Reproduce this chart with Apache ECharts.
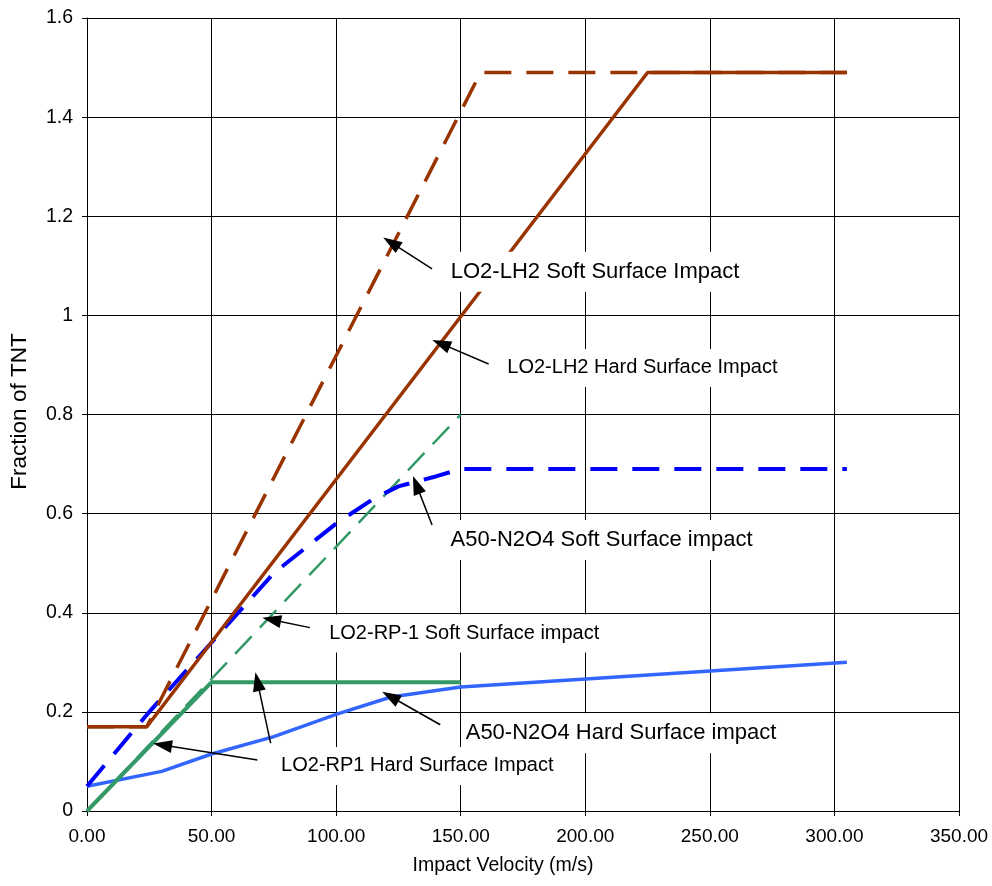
<!DOCTYPE html>
<html>
<head>
<meta charset="utf-8">
<script src="https://cdn.jsdelivr.net/npm/echarts@6/dist/echarts.min.js"></script>
<style>html,body{margin:0;padding:0;background:#fff}#c{width:992px;height:886px}</style>
</head>
<body>
<div id="c"></div>
<script>
// ---- data (Impact velocity m/s -> Fraction of TNT) ----
const lh2HardX = [0, 24, 225, 305];
const lh2HardY = [0.17, 0.17, 1.49, 1.49];
const lh2SoftX = [0, 24, 158, 305];
const lh2SoftY = [0.17, 0.17, 1.49, 1.49];
const a50SoftX = [0, 25, 50, 75, 100, 115, 125, 140, 150, 305];
const a50SoftY = [0.05, 0.2, 0.34, 0.48, 0.58, 0.63, 0.655, 0.675, 0.69, 0.69];
const a50HardX = [0, 30, 50, 75, 100, 122, 150, 305];
const a50HardY = [0.05, 0.08, 0.115, 0.15, 0.195, 0.23, 0.25, 0.30];
const rp1HardX = [0, 50, 150];
const rp1HardY = [0, 0.26, 0.26];
const rp1SoftX = [0, 150];
const rp1SoftY = [0, 0.8];

const xTicks = [0, 50, 100, 150, 200, 250, 300, 350];
const yTicks = [0, 0.2, 0.4, 0.6, 0.8, 1, 1.2, 1.4, 1.6];

// annotations: text anchor (left, middle) and arrows [tail, head] in data units
const annoTexts = [
  {name: 'LO2-LH2 Soft Surface Impact', at: [144.2, 1.088], size: 22},
  {name: 'LO2-LH2 Hard Surface Impact', at: [166.9, 0.894], size: 20},
  {name: 'A50-N2O4 Soft Surface impact', at: [144.1, 0.547], size: 22},
  {name: 'LO2-RP-1 Soft Surface impact', at: [95.4, 0.358], size: 20},
  {name: 'A50-N2O4 Hard Surface impact', at: [150.2, 0.157], size: 22},
  {name: 'LO2-RP1 Hard Surface Impact', at: [76.1, 0.091], size: 20}
];
const annoArrows = [
  [[138.5, 1.094], [122.1, 1.147]],
  [[161.2, 0.902], [142.1, 0.943]],
  [[138.5, 0.577], [132.2, 0.658]],
  [[89.5, 0.370], [74.1, 0.386]],
  [[141.8, 0.174], [121.8, 0.231]],
  [[68.4, 0.103], [30.3, 0.133]],
  [[73.7, 0.137], [68.4, 0.261]]
];

function pairs(xs, ys) { return xs.map((x, i) => [x, ys[i]]); }

const FONT = '"Liberation Sans", Arial, sans-serif';

function lineSeries(xs, ys, color, width, dash, z) {
  return {
    type: 'line', data: pairs(xs, ys), symbol: 'none', z: z,
    lineStyle: {color: color, width: width, type: dash || 'solid', cap: 'butt'},
    silent: true
  };
}

const chart = echarts.init(document.getElementById('c'), null, {renderer: 'canvas'});
chart.setOption({
  animation: false,
  backgroundColor: '#fff',
  grid: {left: 86, right: 33, top: 18, bottom: 75},
  xAxis: {
    type: 'value', min: 0, max: 350, interval: 50,
    name: 'Impact Velocity (m/s)', nameLocation: 'middle', nameGap: 45,
    nameTextStyle: {fontFamily: FONT, fontSize: 19.5, color: '#000', padding: [0, 40, 0, 0]},
    axisLine: {show: true, onZero: false, lineStyle: {color: '#000', width: 1}},
    axisTick: {show: true, length: 5, lineStyle: {color: '#000'}},
    axisLabel: {fontFamily: FONT, fontSize: 19, color: '#000', margin: 16,
      formatter: v => Number(v).toFixed(2)},
    splitLine: {show: true, lineStyle: {color: '#000', width: 1}}
  },
  yAxis: {
    type: 'value', min: 0, max: 1.6, interval: 0.2,
    name: 'Fraction of TNT', nameLocation: 'middle', nameGap: 56, nameRotate: 90,
    nameTextStyle: {fontFamily: FONT, fontSize: 22.5, color: '#000', padding: [0, 0, 0, 6]},
    axisLine: {show: true, onZero: false, lineStyle: {color: '#000', width: 1}},
    axisTick: {show: true, length: 5, lineStyle: {color: '#000'}},
    axisLabel: {fontFamily: FONT, fontSize: 19.5, color: '#000', margin: 14,
      formatter: v => String(Math.round(v * 10) / 10)},
    splitLine: {show: true, lineStyle: {color: '#000', width: 1}}
  },
  series: [
    lineSeries(a50HardX, a50HardY, '#3366FF', 3.5, null, 2),
    lineSeries(rp1SoftX, rp1SoftY, '#339966', 2.5, [24, 12], 2),
    lineSeries(a50SoftX, a50SoftY, '#0000FF', 4, [27, 15], 2),
    lineSeries(rp1HardX, rp1HardY, '#339966', 4, null, 2),
    lineSeries(lh2SoftX, lh2SoftY, '#993300', 3.5, [27, 15], 2),
    lineSeries(lh2HardX, lh2HardY, '#993300', 3.5, null, 2),
    {
      type: 'line', data: [], z: 10, silent: true,
      markPoint: {
        silent: true, symbol: 'circle', symbolSize: 1,
        itemStyle: {color: 'rgba(0,0,0,0)'},
        label: {
          show: true, position: 'right', distance: 0,
          formatter: p => p.name,
          fontFamily: FONT, color: '#000',
          backgroundColor: '#fff', padding: [9, 4, 9, 4]
        },
        data: annoTexts.map(a => ({name: a.name, coord: a.at, label: {fontSize: a.size}}))
      },
      markLine: {
        silent: true, symbol: ['none', 'triangle'], symbolSize: [13, 19],
        label: {show: false},
        lineStyle: {color: '#000', width: 1.5, type: 'solid'},
        itemStyle: {color: '#000'},
        data: annoArrows.map(a => [{coord: a[0]}, {coord: a[1]}])
      }
    }
  ]
});
</script>
</body>
</html>
